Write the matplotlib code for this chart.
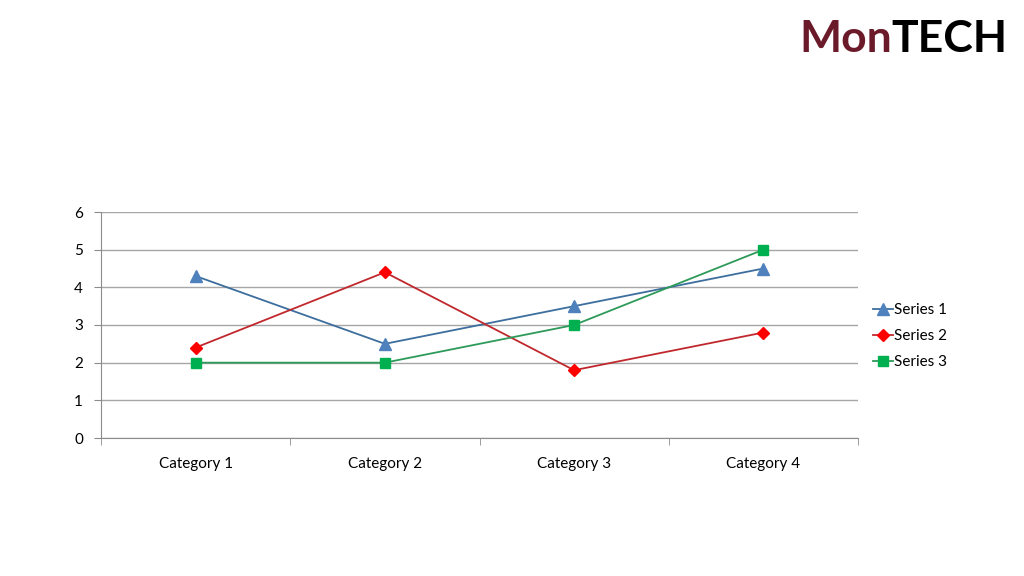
import numpy as np
import matplotlib.pyplot as plt

categories = ['Category 1', 'Category 2', 'Category 3', 'Category 4']
series1 = [4.3, 2.5, 3.5, 4.5]
series2 = [2.4, 4.4, 1.8, 2.8]
series3 = [2, 2, 3, 5]
labels = ['Series 1', 'Series 2', 'Series 3']

plt.rcParams['font.family'] = ['Lato', 'DejaVu Sans']

fig = plt.figure(figsize=(10.24, 5.76), dpi=100)
ax = fig.add_axes([101/1024, 1 - 438/576, 757/1024, 226/576])

x = np.arange(len(categories))
ax.plot(x, series1, color='#3C6E9E', lw=1.3, marker='^', ms=8,
        mfc='#4F81BD', mec='#4F81BD', label=labels[0])
ax.plot(x, series2, color='#C0282D', lw=1.3, marker='D', ms=6,
        mfc='#FF0000', mec='#FF0000', label=labels[1])
ax.plot(x, series3, color='#2E9A5A', lw=1.3, marker='s', ms=7,
        mfc='#00B050', mec='#00B050', label=labels[2])

ax.set_xlim(-0.5, 3.5)
ax.set_ylim(0, 6)
ax.set_yticks(range(7))
ax.set_xticks(x)
ax.set_xticklabels(categories)
ax.set_xticks(np.arange(-0.5, 4, 1), minor=True)
ax.tick_params(axis='x', which='major', length=0, pad=14, labelsize=11)
ax.tick_params(axis='x', which='minor', length=5, color='#8C8C8C')
ax.tick_params(axis='y', length=5, color='#8C8C8C', labelsize=11, pad=8)
ax.grid(axis='y', color='#A6A6A6', lw=1)
ax.set_axisbelow(True)
for s in ['top', 'right']:
    ax.spines[s].set_visible(False)
for s in ['left', 'bottom']:
    ax.spines[s].set_color('#8C8C8C')

ax.legend(loc='center left', bbox_to_anchor=(1.0, 0.451), frameon=False,
          fontsize=11, handlelength=1.3, handletextpad=0.05, labelspacing=0.8,
          borderaxespad=0.6)

# logo
t2 = fig.text(1008/1024, 1 - 52/576, 'TECH', color='black', fontsize=32,
              fontweight='bold', family='Lato', ha='right')
fig.canvas.draw()
bb = t2.get_window_extent()
fig.text(bb.x0 / 1024, 1 - 52/576, 'Mon', color='#6B1A2A', fontsize=32,
         fontweight='bold', family='Lato', ha='right')

fig.savefig('out.png', dpi=100)
